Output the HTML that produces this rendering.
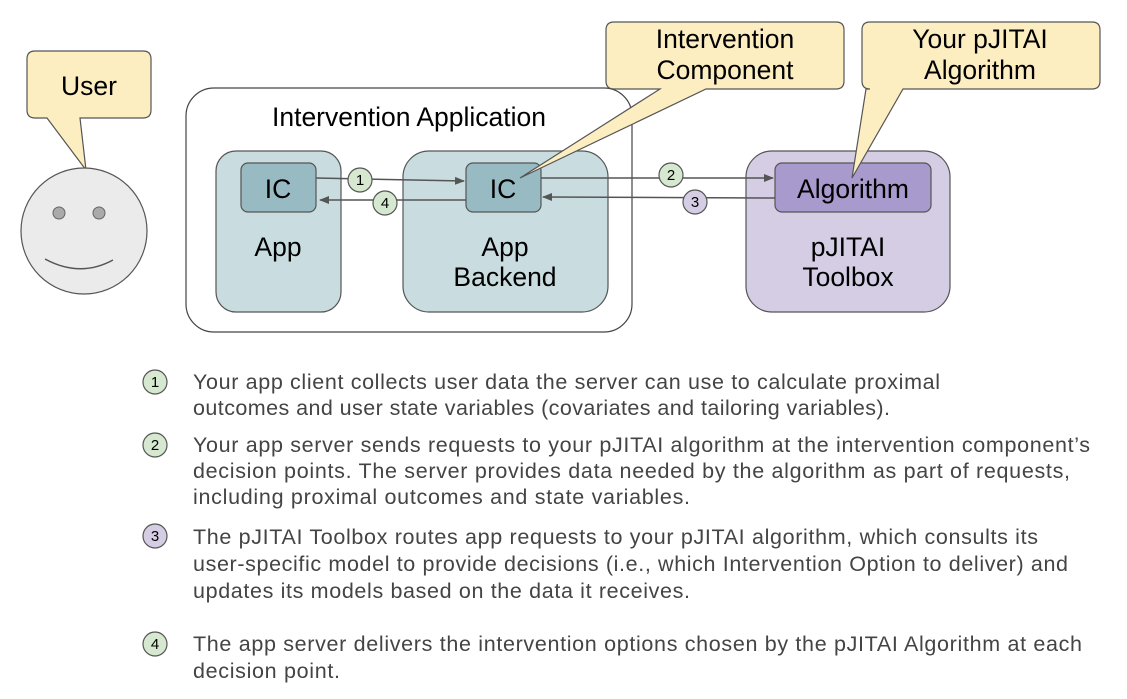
<!DOCTYPE html><html><head><style>body{margin:0;background:#fff}svg{display:block}text{font-family:"Liberation Sans",sans-serif}</style></head><body>
<svg width="1127" height="699" viewBox="0 0 1127 699">
<defs><marker id="a" markerWidth="10" markerHeight="10" refX="9" refY="5" orient="auto" markerUnits="userSpaceOnUse"><path d="M0,1 L10,5 L0,9z" fill="#555"/></marker></defs>
<rect x="186" y="88" width="446" height="244" rx="28" fill="#fff" stroke="#444" stroke-width="1.2"/>
<text x="409" y="126" font-size="26.5" text-anchor="middle">Intervention Application</text>
<path d="M35,51 H143 Q151,51 151,59 V110 Q151,118 143,118 H80 L86,170 L47,118 H35 Q27,118 27,110 V59 Q27,51 35,51z" fill="#fdeec2" stroke="#555" stroke-width="1.2"/>
<text x="89" y="95" font-size="26.5" text-anchor="middle">User</text>
<circle cx="84" cy="231" r="63" fill="#ebebeb" stroke="#555" stroke-width="1.2"/>
<circle cx="59" cy="213" r="6" fill="#aaa" stroke="#666"/><circle cx="99" cy="213" r="6" fill="#aaa" stroke="#666"/>
<path d="M45,259 Q80,278 113,260" fill="none" stroke="#555" stroke-width="1.5"/>
<rect x="216" y="151" width="125" height="161" rx="20" fill="#c9dce0" stroke="#555" stroke-width="1.2"/>
<rect x="241" y="163" width="75" height="49" rx="7" fill="#98bac2" stroke="#555" stroke-width="1.2"/>
<text x="278" y="198" font-size="26.5" text-anchor="middle">IC</text>
<text x="278" y="256" font-size="26.5" text-anchor="middle">App</text>
<rect x="403" y="151" width="205" height="161" rx="26" fill="#c9dce0" stroke="#555" stroke-width="1.2"/>
<rect x="466" y="163" width="75" height="49" rx="7" fill="#98bac2" stroke="#555" stroke-width="1.2"/>
<text x="503" y="198" font-size="26.5" text-anchor="middle">IC</text>
<text x="505" y="256" font-size="26.5" text-anchor="middle">App</text>
<text x="505" y="286" font-size="26.5" text-anchor="middle">Backend</text>
<rect x="746" y="151" width="204" height="161" rx="26" fill="#d5cde4" stroke="#555" stroke-width="1.2"/>
<rect x="775" y="163" width="156" height="49" rx="7" fill="#a99ace" stroke="#555" stroke-width="1.2"/>
<text x="853" y="198" font-size="26.5" text-anchor="middle">Algorithm</text>
<text x="848" y="256" font-size="26.5" text-anchor="middle">pJITAI</text>
<text x="848" y="286" font-size="26.5" text-anchor="middle">Toolbox</text>
<path d="M614,22 H836 Q844,22 844,30 V81 Q844,89 836,89 H706 L520,178 L660,89 H614 Q606,89 606,81 V30 Q606,22 614,22z" fill="#fdeec2" stroke="#555" stroke-width="1.2"/>
<text x="725" y="48" font-size="26.5" text-anchor="middle">Intervention</text>
<text x="725" y="79" font-size="26.5" text-anchor="middle">Component</text>
<path d="M870,22 H1092 Q1100,22 1100,30 V81 Q1100,89 1092,89 H903 L852,178 L866,89 H870 Q862,89 862,81 V30 Q862,22 870,22z" fill="#fdeec2" stroke="#555" stroke-width="1.2"/>
<text x="980" y="48" font-size="26.5" text-anchor="middle">Your pJITAI</text>
<text x="980" y="79" font-size="26.5" text-anchor="middle">Algorithm</text>
<g stroke="#555" stroke-width="1.5" fill="none">
<line x1="316" y1="178" x2="464" y2="181" marker-end="url(#a)"/>
<line x1="466" y1="200" x2="320" y2="200" marker-end="url(#a)"/>
<line x1="541" y1="178" x2="773" y2="178" marker-end="url(#a)"/>
<line x1="775" y1="198" x2="543" y2="197" marker-end="url(#a)"/>
</g>
<g stroke="#555" stroke-width="1.2">
<circle cx="360" cy="180" r="12" fill="#d6e8cf"/><circle cx="385" cy="203" r="12" fill="#d6e8cf"/>
<circle cx="671" cy="175" r="12" fill="#d6e8cf"/><circle cx="695" cy="202" r="12" fill="#d5cde4"/>
</g>
<g font-size="15" text-anchor="middle"><text x="360" y="185">1</text><text x="385" y="208">4</text><text x="671" y="180">2</text><text x="695" y="207">3</text></g>
<g stroke="#555" stroke-width="1.2">
<circle cx="155" cy="382" r="12" fill="#d6e8cf"/><circle cx="155" cy="445" r="12" fill="#d6e8cf"/>
<circle cx="155" cy="536" r="12" fill="#d5cde4"/><circle cx="155" cy="644" r="12" fill="#d6e8cf"/>
</g>
<g font-size="15" text-anchor="middle"><text x="155" y="387">1</text><text x="155" y="450">2</text><text x="155" y="541">3</text><text x="155" y="649">4</text></g>
<g font-size="21.5" fill="#444" lengthAdjust="spacingAndGlyphs">
<text x="193" y="389" textLength="747">Your app client collects user data the server can use to calculate proximal</text>
<text x="193" y="415" textLength="697">outcomes and user state variables (covariates and tailoring variables).</text>
<text x="193" y="452" textLength="897">Your app server sends requests to your pJITAI algorithm at the intervention component’s</text>
<text x="193" y="478" textLength="877">decision points. The server provides data needed by the algorithm as part of requests,</text>
<text x="193" y="504" textLength="497">including proximal outcomes and state variables.</text>
<text x="193" y="544" textLength="845">The pJITAI Toolbox routes app requests to your pJITAI algorithm, which consults its</text>
<text x="193" y="571" textLength="875">user-specific model to provide decisions (i.e., which Intervention Option to deliver) and</text>
<text x="193" y="598" textLength="497">updates its models based on the data it receives.</text>
<text x="193" y="651" textLength="889">The app server delivers the intervention options chosen by the pJITAI Algorithm at each</text>
<text x="193" y="678" textLength="147">decision point.</text>
</g>
</svg></body></html>
